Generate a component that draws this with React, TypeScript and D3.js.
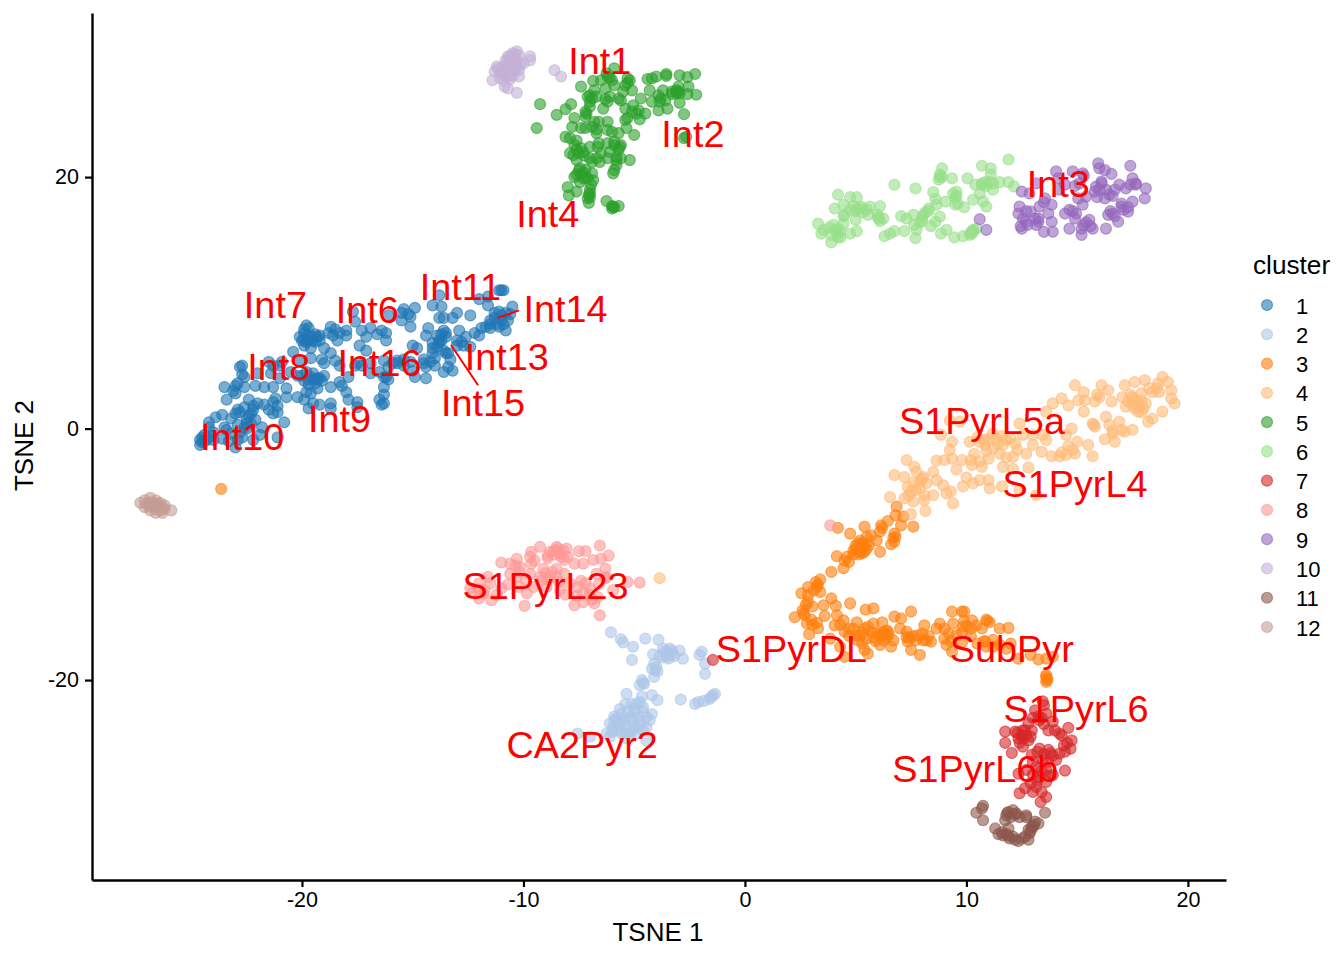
import React, { useRef, useEffect } from 'react';
import * as d3 from 'd3';

type Pt = [number, number];

const cluster1: Pt[] = [
  [-24.6,-1.3],[-24.6,-0.9],[-24.4,-0.5],[-24.2,0.1],[-24.2,0.5],[-23.9,0.9],[-23.6,1.1],[-23.5,0.1],[-24,-0.9],[-23.6,-0.8],[-23.2,-0.4],[-23,-1.5],[-23.2,0.8],[-22.9,1.5],[-22.6,1.7],[-22.4,2.3],[-22.3,1.2],[-22.5,0.8],[-22.6,0.1],[-22.3,0.4],[-22.7,-0.7],[-22,2],[-21.7,1.9],[-21.5,1.5],[-21.3,2.1],[-21.1,1.3],[-20.8,0.5],[-21.1,-0.7],[-21.8,0.1],[-23.4,2.3],[-23,2.8],[-23.5,3.3],[-23,3.4],[-22.6,4.1],[-22.7,5],[-22.8,4.9],[-22.6,3.3],[-22.1,3.4],[-21.7,3.3],[-21.3,3.3],[-22,4.4],[-21.4,4.4],[-21.5,5.3],[-20.9,5.3],[-20.4,6.1],[-20.7,3.2],[-21.2,2.4],[-20.7,2.5],[-20.2,2.5],[-19.8,2.9],[-19.6,2.8],[-19.3,3.2],[-19.7,1.6],[-19.2,1.9],[-18.7,2],[-19.9,3.8],[-19.6,4.1],[-19.3,4],[-19,4.2],[-18.7,3.3],[-18.3,3.7],[-17.9,4.1],[-18,2.9],[-17.9,2.3],[-17.5,2.1],[-17.5,1.7],[-16.5,2.3],[-16.3,2],[-16.3,2.7],[-16.3,3.3],[-16.3,4.1],[-16.9,4.4],[-16.5,4.5],[-16.2,4.1],[-15.7,5.2],[-16.3,5.4],[-15.4,5],[-14.9,4.1],[-14.4,4],[-14.4,4.9],[-14,5],[-14.5,5.2],[-14.8,6.4],[-15,6.6],[-14.1,6],[-13.8,6.8],[-13.5,7.6],[-14.4,7.4],[-14.3,8],[-13.8,8.8],[-13.6,8.8],[-13.2,8.8],[-13,9.2],[-12.4,9],[-14.1,9.8],[-13.7,9.7],[-13.8,10.6],[-11.6,9.8],[-12,10.3],[-11.6,10.5],[-11.1,11],[-10.9,11],[-11.3,9.2],[-11.1,9.3],[-10.5,9.7],[-10.8,9.2],[-11,8.6],[-10.8,7.8],[-11.7,8.1],[-12.2,7.6],[-12.6,7.3],[-13,7],[-12.9,7.8],[-13.5,6],[-13.4,4.9],[-13.6,6.2],[-12.7,6.6],[-15.1,8.1],[-14.9,9.6],[-15.4,9.5],[-15.5,8.6],[-15.1,8.9],[-16.1,9],[-16.2,7.6],[-16.4,7.8],[-16.2,7],[-16.9,8],[-17.3,7.8],[-17.1,7.3],[-17.4,6.6],[-17.1,6.2],[-17.6,8.5],[-17.7,9.3],[-18,7.8],[-18.3,7.6],[-18.4,7],[-18.7,8.1],[-18.8,7.6],[-19.7,8],[-19.9,7.6],[-20,7],[-19.9,6.6],[-19.4,6.9],[-19.2,7],[-19,6.4],[-18.7,6],[-19.1,5.5],[-19.6,5.6],[-20.1,5.3],[-15.7,5.4],[-17.5,5.2],
  [-23.3,-1],[-22.9,-0.9],[-22.5,0],[-22.1,0.7],[-22.2,1.5],[-24.4,-1],[-24.5,-0.7],[-24,-0.3],[-22.2,-0.9],[-21.9,-0.5],[-21,4],[-20.5,4.5],[-20.2,4.2],[-19.7,3.5],[-19.4,3.6],[-19.5,7.3],[-19.7,7],[-19.3,7.3],[-17.6,5],[-16.9,5.2],[-15.4,5.5],[-13.9,6.5],[-14,5.6],[-13.7,7],[-13.5,7.3],[-13.3,5.5],[-12.8,6.9],[-11.5,8.3],[-11.3,8.8],[-11.2,8.3],[-10.9,8.3],[-11,11],
  [-20.1,7.3],[-19.9,7.1],[-19.7,7.4],[-19.5,7],[-19.4,7.5],[-19.2,7.4],[-19.9,7.9],[-19.8,8.2],[-19.8,6.9],[-19.6,6.4],[-18.6,7.4],[-18.5,7.9],[-18,7.4],[-19.5,4.4],[-19.7,3.9],[-19.2,4],[-19.4,3.9],[-19.1,3.8],[-19.8,4.5],[-20,4.2],[-18.2,3.4],[-13.9,7.4],[-13.8,7],[-14.1,6.4],[-14.1,6.8],[-13.6,7.8],[-13.7,7.5],[-13.4,6],[-13,6.6],[-12.4,6.5],[-12,7.4],[-11.9,8],[-11.5,8],[-11.1,8.1],[-11,9],[-11.5,8.6],[-10.7,8.6],[-10.6,9.1],[-22.4,1],[-22.2,1.8],[-22.8,1.3],[-23,1.2],[-22.5,0.4],[-22.9,0.3],[-23.4,-0.1],[-22.8,-0.3],[-24.3,-0.9],[-24.1,-0.6],[-24.5,-1.1],[-22.9,3.6],[-22.7,4.3],[-23.1,3],[-21.3,5],[-21,5],[-19,5.2],[-18.5,5.4],[-18.3,5],[-17.3,5],[-16.1,4.9],[-15.9,5.2],[-15.1,5.3],[-15,4.6],[-16.1,3.9],[-16.4,1.9],[-18.7,1.6],[-19.5,2],[-19.9,2.3],[-21.1,1.8],[-21.3,1.2],[-16.6,7.5],[-15.5,9.2],[-15.2,9.1],[-14.5,5.5],[-14.2,5.3],[-13.6,4.5],[-13.2,4.6],
];
const cluster2: Pt[] = [
  [-6.05,-16.2],[-5.6,-16.75],[-5.5,-17],[-5.05,-17.35],[-5.1,-18.4],[-4.5,-16.7],[-3.9,-16.8],[-3.7,-17.5],[-3.3,-17.65],[-2.95,-17.65],[-2.8,-18.3],[-4.15,-17.95],[-3.85,-18.05],[-3.45,-18.3],[-3.55,-17.9],[-3.25,-17.9],[-1.95,-17.75],[-2.05,-18],[-1.8,-18.7],[-1.8,-19.5],[-4,-18.95],[-4.2,-19.1],[-4.1,-19.75],[-4.65,-20],[-4.75,-20.4],[-5.35,-21.1],[-5.4,-21.9],[-4.65,-21.3],[-4.2,-21.2],[-3.95,-21.6],[-2.9,-21.55],[-2.25,-21.9],[-2.1,-21.75],[-1.85,-21.65],[-1.5,-21.35],[-1.35,-21.1],[-5.65,-22.3],[-5.1,-21.9],[-4.75,-21.75],[-4.6,-22.15],[-4.2,-22.7],[-4.45,-23.75],[-6.1,-23.45],[-5.8,-23.05],[-5.5,-23.35],[-5.2,-22.95],[-5,-23.75],[-6.25,-24.25],[-5.8,-24],[-5.35,-24.25],[-4.9,-24.25],[-6.1,-24.5],[-4.45,-24.8],[-7.55,-24.25],[-7,-24.5],[-4.45,-22.95],[-5.65,-23.75],[-4.8,-22.95],[-5.1,-24],[-5.95,-23.75],[-4.6,-24],[-5.35,-23.75],
  [-5.9,-22.9],[-5.6,-22.7],[-5.4,-23],[-5.6,-24.2],[-5.2,-24.4],[-5,-22.6],[-4.7,-23.3],[-4.6,-22.5],[-5,-22.3],[-4.9,-21.9],[-5.3,-22.5],[-5.7,-23.4],[-6,-24.1],[-5.4,-24.6],[-5.1,-23.2],[-4.8,-23.6],[-4.3,-23.2],[-5.9,-23.2],[-3.6,-17.7],[-3.5,-18.1],[-3.4,-17.5],[-3.7,-18.2],[-3.2,-18.1],[-4.05,-19.2],[-3.95,-19.3],[-4.1,-18.7],[-4.6,-20.2],[-4.55,-20.3],[-1.6,-21.5],[-1.45,-21.2],
];
const cluster3: Pt[] = [
  [-23.65,-4.8],[6.85,-6.2],[6.8,-6.9],[7.15,-7],[7.05,-7.7],[7.6,-7.8],[6.45,-7.35],[6.15,-7.7],[6.1,-8.2],[5.4,-7.8],[4.75,-8.35],[4.2,-7.9],[6.75,-8.35],[6.75,-9],[5.1,-9.15],[5.35,-9.4],[5.2,-9.8],[6.1,-9.8],[5.7,-8.5],[4.15,-10.15],[5.95,-8.9],[5.5,-8.6],[5,-9.3],[5.4,-9.8],[5.2,-8.9],[5.3,-9.1],[5.45,-9.2],[5.25,-9.6],[5.5,-9.55],[4.9,-9.7],[4.6,-10.2],
  [4.7,-10.6],[4.45,-11.1],[3.9,-11.4],[3.4,-12],[3.2,-12.2],[3.25,-12.6],[2.85,-12.6],[2.55,-13.1],[2.85,-13.25],[2.85,-13.8],[3.05,-14.15],[3.55,-14.05],[3.9,-13.5],[4.1,-14.1],[4.75,-13.9],[2.6,-14.45],[2.25,-15],[2.7,-14.85],[2.8,-15.5],[2.9,-16.35],[3.25,-15.45],[3.3,-15.9],[3.6,-14.9],[4.15,-14.85],[4.05,-15.65],[4.45,-15.25],[5.45,-14.4],[5.8,-14.3],[3.85,-16.7],[4.3,-17.35],[4.5,-18.15],[5.05,-15.4],[4.5,-16.15],[5.2,-16.45],[5.55,-15.75],[5.8,-15.5],[6.2,-15.4],[6.75,-14.95],[7.05,-15.1],[7.5,-14.55],[6.4,-16.05],[6.1,-16.45],[6.25,-16.85],[6.6,-17.35],[6.7,-16.85],[7,-15.9],[7.3,-16.15],[7.35,-16.95],[7.5,-17.6],[7.9,-18],[7.8,-16.45],[8.05,-16.85],[8.1,-15.65],[8.4,-16.95],[8.65,-15.9],[8.8,-15.5],[9,-15.9],[9.4,-15.5],[9.35,-14.55],[9.8,-14.55],[9.9,-14.55],[10.25,-15.25],[9.85,-15.75],[10.45,-15.65],[10.9,-15.2],[11.05,-15.4],[11.5,-15.9],[11.9,-15.85],[9,-16.7],[9.1,-17.2],[9.35,-17.75],[9.55,-16.45],[10.85,-16.95],[10.9,-17.35],[11.8,-17.5],[12.35,-18.3],[13.25,-18.35],[13.6,-18.3],[13.9,-18.15],[5.4,-17.6],[5.55,-17.9],[5.7,-16.15],[5,-16.45],[5.1,-16.85],[6.1,-17.2],[6.45,-16.15],[13.6,-19.6],[13.65,-19.9],[13.6,-20.15],[10.8,-16.9],[11.2,-17.35],[8.2,-16.85],[7.7,-16.85],[9.8,-17],[10.2,-16.5],[10.5,-17.1],[11.5,-17.2],[12,-17.1],[12.9,-18],[6,-16.3],[6.3,-16.3],[5.3,-16.2],[4.9,-15.9],[3.4,-13],
  [5.5,-16.7],[5.8,-16.6],[6.2,-16.2],[6.4,-16.6],[6.5,-16.4],[5.9,-16.9],[5.3,-17.1],[4.7,-16.5],[4.3,-15.6],[4.7,-15.9],[5.4,-15.9],[3.05,-15.6],[3,-15.2],[2.65,-14.7],[2.75,-14],[3.1,-12.9],[3.3,-12.4],[7.4,-16.6],[7.6,-16.5],[8,-16.3],[8.3,-16.5],[7.3,-16.6],[9.2,-16.3],[9.3,-16.9],[9.8,-16.2],[10,-15.7],[10.2,-15.9],[9.9,-15.3],[10.7,-15.9],[10.95,-15.3],[11.2,-16.8],[5,-9.6],[4.9,-10],[5.15,-10],[5.3,-9.9],[5.6,-9.3],[4.5,-10.5],[6.7,-8.7],[6.8,-8.6],[6.6,-9.2],[6.2,-7.9],[13.6,-19.75],[13.65,-20],
];
const cluster4: Pt[] = [
  [-3.85,-11.9],[18.85,4.1],[18.65,3.6],[19.1,3.7],[18.05,3.85],[17.6,3.7],[17.15,3.45],[18.25,3.2],[18.7,2.9],[19.25,3.05],[19.25,2.4],[19.4,2],[18.85,1.35],[18.4,0.8],[18.2,0.55],[17.9,2.8],[17.5,2.5],[17.3,2.15],[17.2,1.75],[17.8,1.85],[18.1,2],[17.75,1.35],[17.05,2.5],[16.1,3.45],[16.4,3.05],[16,2.5],[15.8,2.15],[16.55,2.15],[15.3,2.9],[14.9,3.45],[15.05,2.25],[15.35,2.25],[15.3,1.35],[14.6,1.85],[14.3,2.4],[13.9,2],[13.6,1.35],[15.7,0.4],[15.8,0.15],[16.3,0.95],[16.45,0.3],[16.9,0.55],[17.5,-0.1],[17.15,-0.25],[16.6,-0.4],[16.25,-0.85],[16.7,-1.05],[15.5,-1.3],[15.7,-2.2],[15,-1.05],[14.75,0],[14.8,-1.7],[14.5,-2.1],[14.2,-2.2],[13.85,-2.2],[13.4,-1.85],[12.7,-2],[13,-1.3],[13.45,-0.5],[13,-0.5],[12.4,0.4],[9.7,0.55],[9.25,0.65],[8.85,-0.5],[9.35,-1.05],[9.25,-1.7],[10.15,-1.05],[10.6,-1.05],[10.85,-1.3],[11.2,-1.6],[11.65,-1.3],[12.2,-1.2],[12.1,-2.25],[11,-2.4],[10.35,-2],[9.8,-2.5],[9.35,-2.4],[9,-2.5],[8.65,-2.55],[9.55,-3.25],[10.25,-2.9],[10.7,-3.05],[11.65,-3.05],[12.1,-3.2],[12.8,-3.1],[7.3,-2.5],[7.65,-3.05],[7.75,-3.45],[6.75,-3.7],[7.2,-3.85],[8.05,-3.85],[8.5,-3.45],[8.65,-4.1],[8.2,-4.35],[7.35,-4.65],[8.95,-4.5],[9.3,-5],[9.4,-5.95],[8.5,-5.3],[8.1,-5.3],[6.55,-5.45],[7.2,-5.55],[7.6,-5.8],[8.1,-5.7],[8.15,-6.55],[7.5,-6.8],[9.85,-4.6],[10,-3.9],[10.3,-4.35],[10.6,-4.1],[11.05,-4.75],[11,-4.1],[11.6,-4.6],[13.15,-5.3],[12.4,-4.9],[9.1,-5.15],[7.9,-4.75],[11.2,-0.4],[11.35,-0.8],[11.8,-0.9],[12.55,-0.5],
  [17.6,2.3],[17.7,2.1],[17.5,1.9],[17.9,2.2],[18,1.6],[17.6,1.6],[17.9,1.3],[17.4,2.7],[18.4,2.9],[18.6,3.2],[15.9,2.7],[10.5,-0.7],[10.8,-0.9],[11,-0.8],[11.4,-1.2],[11.6,-0.6],[12,-0.8],[10.9,-1.8],[11.5,-2],[11.8,-2.3],[12.3,-1.7],[10.2,-2.5],[10.6,-2.6],[7.6,-4.3],[7.9,-4.2],[8,-4],[7.5,-5],[7.7,-4.9],[7.4,-5.3],[13.6,-0.9],[14.5,-0.5],[14.6,-1.4],[14.9,-2],[14.3,-1.9],[15.75,0.3],[16.6,-0.2],[17,-0.1],
];
const cluster5: Pt[] = [
  [-5.9,28.65],[-6.25,28.25],[-6.85,27.65],[-7.4,27.2],[-6.5,27.7],[-6,27.7],[-5.3,27.85],[-5.2,27.7],[-5.4,27.3],[-5.1,26.9],[-5.9,27.3],[-6.3,27.05],[-6.8,26.9],[-7.1,26.4],[-6.9,26.25],[-7,26],[-6.3,26.2],[-6.2,26],[-5.7,26.25],[-5.6,26.1],[-6.4,25.45],[-7,25.6],[-7.15,25.05],[-7.2,24.8],[-6.8,24.4],[-6.6,24.4],[-6.2,24.4],[-5.4,25.45],[-5.05,25.7],[-4.9,25.05],[-4.5,25.05],[-4.75,24.6],[-5.3,24.7],[-5.4,24.55],[-5.35,23.9],[-7.7,24.7],[-7.8,24],[-7.4,23.9],[-7.2,23.9],[-6.7,23.5],[-6.2,23.75],[-6,23.6],[-5.7,23.5],[-5,23.35],[-8.1,23.2],[-7.9,23.1],[-7.7,22.55],[-6.6,22.7],[-6.65,22.4],[-6.2,22.7],[-5.9,22.55],[-5.6,22.55],[-5.65,22.4],[-7.9,21.9],[-7.3,22],[-7,22.4],[-6.5,21.9],[-6.1,22],[-5.8,21.35],[-5.2,21.35],[-5.6,21.5],[-7.75,21.75],[-7.6,21.35],[-6.9,21.2],[-6.55,21.2],[-5.8,20.95],[-5.95,20.3],[-5.9,20.55],[-7.45,20.7],[-7.3,20.4],[-7.7,20],[-6.85,19.75],[-6.9,20.3],[-7.45,19.6],[-8,19.2],[-7.95,18.55],[-7.6,18.85],[-7,18.7],[-7.1,18.3],[-7.05,17.95],[-6.25,18.1],[-5.95,17.65],[-5.7,17.7],[-6,17.5],[-9.25,25.8],[-9.4,23.9],[-8.5,24.95],[-8.1,25.4],[-7.85,25.8],[-4.4,27.8],[-4.2,27.85],[-4,28],[-3.55,28.2],[-3.55,28.05],[-2.95,28.1],[-2.25,28.2],[-2.6,27.95],[-3.7,26.9],[-4.3,26.9],[-3,27.2],[-2.55,27.2],[-3.1,26.65],[-3.3,26.8],[-2.95,26.65],[-2.2,26.55],[-2.6,26.6],[-4.7,26.25],[-4.2,26],[-3.8,26.25],[-3.85,26],[-2.95,25.9],[-3.5,25.45],[-3.9,25.3],[-2.75,25],[-2.75,23.1],[-2.65,23.2],
  [-7.4,20.2],[-7.2,20],[-7.1,19.9],[-7.6,20.2],[-7,19],[-7,18.4],[-7.6,22.2],[-7.5,21.9],[-6,17.7],[-5.9,17.6],[-3.1,26.9],[-3.3,26.6],
  [-7.6,22.9],[-7.4,22.3],[-7.25,21.7],[-7,21.5],[-6.7,21.5],[-5.9,22.8],[-5.7,22.2],[-5.8,21.6],[-6.2,21.5],[-7.2,20.6],[-7.3,19.9],[-7.5,20.5],[-6.95,19.4],[-7.05,18.6],[-7,26.5],[-6.7,26.4],[-5.3,27.5],[-5.5,26.8],[-6.1,26.4],[-5.1,25.2],[-4.8,25.3],[-6.7,23.8],[-6.9,24],[-3.9,26.5],[-3.6,26.1],[-3,26.8],[-6.1,27.9],[-6.2,28],[-7.2,25.2],
];
const cluster6: Pt[] = [
  [3.3,16.3],[3.55,15.8],[3.45,15.5],[3.9,14.8],[4.3,15.2],[4.2,15.9],[4,16.2],[4.15,15.5],[4.75,15.5],[5.05,15.7],[4.45,16.3],[4.45,16.9],[4.2,18.6],[4.75,18.4],[5.05,18.4],[4.05,17.5],[4.45,17.8],[4.75,17.4],[5.05,17.5],[5,16.6],[5.55,17],[5.25,17.65],[5.65,17.65],[6.1,17.7],[6,17],[6.1,16.5],[6.25,16.7],[6.75,19.4],[7.7,19.1],[6.3,15.3],[6.55,15.5],[6.75,15.7],[7.05,16.9],[7.3,16.7],[7.2,15.7],[7.6,17],[7.75,15.8],[7.7,15.15],[7.65,16.2],[8.05,17],[8.3,17.5],[8.6,16.45],[8.4,16.1],[8.8,16.85],[8.5,18.8],[8.6,18.25],[8.65,17.8],[9.05,18.05],[9.4,18.7],[9.55,18.85],[9.5,17.8],[9.9,17.6],[8.9,20.7],[8.8,20.2],[8.75,19.8],[9.35,19.9],[10.05,19.9],[8.85,15.5],[9.1,15.8],[9.45,15.2],[9.85,15.3],[10.15,15.4],[10.3,15.8],[10.45,15.9],[10.4,19.4],[10.6,18.7],[10.3,18.2],[10.75,18.05],[10.9,17.65],[10.7,20.9],[11.1,20.7],[11.1,20.2],[10.7,19.4],[11.2,19],[11.05,19.6],[11.5,19.6],[11.9,19.6],[12.15,19.25],[11.9,21.4],
  [4.3,15.7],[5,17.3],[5.3,17.2],[6,16.8],[8,16.8],[7.9,16.4],[8.15,17.2],[9.5,18.4],[9.6,17.9],[8.9,20],[10.2,15.6],[10.85,19.6],
  [3.8,16],[3.9,15.4],[4.2,15.2],[4.1,15.8],[5.2,17.5],[5.5,17.4],[6.05,16.7],[8.3,17.3],[8,16.5],[9.55,18.5],[10.3,15.7],[10.25,15.5],[10.7,19.5],[10.9,19.3],[11.2,19.5],[8.8,20],[4.5,17],[4.9,17.7],
];
const cluster7: Pt[] = [
  [-1.45,-18.4],[13.45,-21.7],[13.1,-22.4],[13.25,-22.9],[13.6,-22.65],[13.9,-23.3],[13.7,-24],[14.6,-23.8],[14.3,-24.4],[14.75,-24.8],[14.7,-25.45],[14.2,-25.85],[11.75,-24.1],[12.2,-24.1],[12.65,-24],[11.75,-25],[12.05,-25.8],[12.55,-25.3],[12.95,-24],[12.55,-24.65],[13.3,-25.45],[13.7,-25.55],[14.05,-26.35],[14.45,-27.2],[12.7,-27.15],[13.15,-26.9],[13.6,-27.15],[13.9,-27.55],[12.4,-29],[12.65,-28.6],[13.15,-28.5],[13.6,-29.3],[13.35,-29.7],[13,-28.9],[13.6,-28.1],[12.95,-25.95],[13.45,-26.35],[12.35,-24.65],[12.8,-23.45],[14.45,-25.7],[12.35,-27.45],[13.3,-27.7],[13.7,-26.5],[12.55,-24],[13.3,-23.2],[14.2,-24.25],
  [12.3,-24.2],[12.5,-24.4],[12.7,-24.4],[12.8,-24.8],[13,-23],[13.4,-23],[13.5,-23.5],[13.2,-25.7],[13.5,-25.9],[13.8,-25.8],[14.4,-25.2],[14.55,-25],[13.4,-27.2],[13,-27.5],[13.2,-28],[12.9,-28.2],[13.4,-28.9],[13.9,-26],[13,-26.5],[13.7,-27.6],[12.9,-24.5],[13.5,-22],[14,-24],[12.4,-25],
];
const cluster8: Pt[] = [
  [3.85,-7.7],[-6.55,-9.3],[-6.15,-10.1],[-7.2,-9.75],[-7.5,-9.75],[-8.05,-9.55],[-8.5,-9.4],[-9.25,-9.4],[-9.65,-9.8],[-9.7,-10.2],[-8.9,-10.1],[-8.35,-9.95],[-8.15,-10.45],[-7.7,-10.75],[-7.3,-10.75],[-6.85,-10.45],[-6.5,-10.35],[-6.3,-11.15],[-11,-10.65],[-10.6,-10.75],[-10.3,-10.35],[-10.15,-11],[-9.65,-10.75],[-9.1,-11.15],[-8.5,-11.15],[-8.15,-11.55],[-6.7,-11.55],[-6.25,-11.8],[-5.3,-12.2],[-4.75,-12.25],[-11.6,-11.8],[-12,-12.3],[-12.4,-12.7],[-12,-13.5],[-11.45,-13.65],[-9.95,-14.1],[-9.85,-13.1],[-9.25,-11.8],[-8.8,-11.8],[-7.7,-14.05],[-7.3,-13.8],[-6.8,-13.9],[-6.55,-14.85],[-5.95,-12.85],[-7.55,-12.6],[-7,-12.7],[-11,-12.7],[-10.3,-11.8],[-9.55,-12.6],[-8.95,-12.6],[-8.35,-12.85],[-7.3,-13.1],[-6.65,-13.4],[-11.75,-12.85],[-12.25,-13],[-10.6,-11.55],[-8.8,-9.8],[-8.45,-9.55],[-8.2,-9.7],[-9.7,-11.55],[-7.9,-12.3],
  [-8.9,-10.3],[-8.6,-10],[-8.3,-10.2],[-8.6,-9.7],[-8,-10.2],[-9.5,-10.5],[-10.35,-10.9],[-10.2,-11.4],[-9,-11.5],[-8.7,-11.4],[-8.5,-11.8],[-8.9,-12],[-9.2,-12.1],[-8.4,-12.2],[-7.4,-12.1],[-7.2,-12.3],[-7.6,-13.3],[-7,-13.2],[-6.3,-11.9],[-6.6,-12.4],[-6.9,-13.6],[-11.8,-13.1],[-12,-12.8],[-11.5,-12.3],[-11.2,-13.2],[-10.7,-12.4],[-10.2,-12.6],[-9.9,-12],[-8.1,-13.2],
];
const cluster9: Pt[] = [
  [10.6,16.65],[10.9,15.8],[12.5,18.85],[12.85,18.7],[12.4,17.65],[12.35,17.1],[12.55,16.7],[12.45,16.1],[12.7,16.45],[12.5,15.9],[12.9,17.25],[13.15,19.5],[13.25,16.45],[13.25,16.7],[13.15,16.2],[13.5,15.65],[13.7,17.1],[13.85,16.45],[13.9,15.65],[13.3,17.65],[13.85,17.8],[13.55,18.3],[14.05,20.45],[14.15,19.9],[14.8,20.45],[15.25,20.3],[14.45,19.4],[15.85,19.25],[16.1,19.5],[15.95,21.1],[16,20.7],[16.25,20.55],[16.55,20.25],[17.4,20.9],[17.5,19.9],[17.4,19.4],[17.65,19.4],[18.1,19.1],[18.05,18.3],[16.9,19.4],[16.7,19],[16.45,18.6],[16.25,18.3],[15.8,18.85],[15.4,18.45],[15.25,17.8],[14.95,17.1],[14.45,17.1],[14.9,16.7],[14.65,15.9],[15.2,15.9],[15.2,15.4],[15.55,16.6],[15.7,15.9],[16.3,15.9],[16.85,16.45],[16.4,17],[16.6,17.1],[17,17.9],[17.5,18.05],[17.3,17.25],[17,17.65],[15.1,19.5],[14.2,19],[14.65,17.4],[15.05,18.3],[17.65,19.5],[16.3,19],[16.1,19.65],
  [12.75,16.2],[13.1,16.7],[15.4,16.4],[15.3,16.2],[16.5,17.3],[16.7,16.9],[17.1,17.4],[17.3,17.6],[14.8,17.3],[16.6,18.5],[17.2,19.1],[15.3,20.1],[13.5,18],[15.6,16.1],[12.7,17.3],[15.9,18.4],[16,19],[14.9,19.3],
];
const cluster10: Pt[] = [
  [-10.3,30],[-9.7,29.6],[-9.7,29.3],[-11.4,27.7],[-11.2,28.8],[-11.3,28.4],[-10.8,29.3],[-10.7,29.6],[-10.5,29.85],[-10.2,29.7],[-10.5,29.05],[-10.15,28.9],[-11.05,28.25],[-10.7,28.5],[-10.4,28.4],[-10.2,28],[-10.9,27.7],[-11.05,27.85],[-10.7,27.05],[-10.3,26.7],[-10.85,27.2],[-10,29.05],[-10.5,28],[-10.75,29.05],[-11.15,28.65],[-8.6,28.5],[-8.3,28],[-10.6,29.3],[-10.4,29.5],[-10.9,28.8],[-10.3,28.7],[-10.8,28],[-10.6,27.8],
  [-10.6,28.9],[-10.5,28.5],[-10.8,28.4],[-11,28.6],[-11,28.3],[-10.4,29.1],[-10.3,29.3],[-10.6,29.6],[-10.4,29.8],[-10.9,28.1],[-10.6,28.1],[-10.2,28.5],
];
const cluster11: Pt[] = [
  [10.75,-30],[10.45,-30.55],[10.75,-31.15],[12.1,-30.35],[11.8,-30.75],[11.75,-31.15],[12.4,-30.9],[12.7,-30.75],[13.55,-30.55],[13.25,-31.4],[12.95,-31.65],[12.85,-32.2],[12.65,-32.45],[11.3,-31.8],[11.45,-32.25],[11.65,-32.35],[11.95,-32.6],[12.35,-32.8],[12.8,-32.7],[11.9,-31.8],[12.25,-30.6],[13.1,-31.25],[11.8,-32.25],[12.1,-32.45],
  [11.9,-30.5],[12,-30.9],[12.2,-30.7],[12.7,-30.9],[13,-31.7],[12.8,-31.9],[13.05,-31.5],[12.9,-32],[11.6,-32.1],[11.9,-32.4],[12.2,-32.7],[12.5,-32.6],[11.85,-30.55],[10.7,-30.2],
];
const cluster12: Pt[] = [
  [-27.3,-5.9],[-27.1,-5.7],[-26.85,-5.5],[-26.6,-5.7],[-26.4,-5.9],[-26.2,-6.1],[-25.9,-6.5],[-26.85,-6.5],[-26.6,-6.7],[-26.4,-6.5],[-27.1,-6.25],[-26.5,-6.2],[-26.75,-6.1],
  [-26.9,-5.9],[-26.7,-5.9],[-26.3,-6.3],[-26.6,-6.4],[-26.5,-6],[-26.9,-6.2],[-26.2,-6.4],[-27,-6],[-26.3,-6.7],
];

const clusters = [cluster1, cluster2, cluster3, cluster4, cluster5, cluster6, cluster7, cluster8, cluster9, cluster10, cluster11, cluster12];
const clusterNames = ['1', '2', '3', '4', '5', '6', '7', '8', '9', '10', '11', '12'];
const palette = ['#1f77b4', '#aec7e8', '#ff7f0e', '#ffbb78', '#2ca02c', '#98df8a', '#d62728', '#ff9896', '#9467bd', '#c5b0d5', '#8c564b', '#c49c94'];

const labelNames = ['Int1', 'Int2', 'Int3', 'Int4', 'Int7', 'Int6', 'Int11', 'Int14', 'Int8', 'Int16', 'Int13', 'Int15', 'Int9', 'Int10', 'S1PyrL5a', 'S1PyrL4', 'S1PyrL23', 'S1PyrDL', 'SubPyr', 'S1PyrL6', 'S1PyrL6b', 'CA2Pyr2'];
const labelXs = [-6.55, -2.35, 14.15, -8.9, -21.2, -17.05, -12.85, -8.1, -21.05, -16.5, -10.75, -11.83, -18.3, -22.7, 10.7, 14.9, -9, 2.1, 12.05, 14.95, 10.4, -7.35];
const labelYs = [29.25, 23.45, 19.5, 17.1, 9.85, 9.45, 11.3, 9.55, 4.95, 5.2, 5.75, 2.05, 0.75, -0.65, 0.65, -4.35, -12.5, -17.5, -17.55, -22.25, -27.05, -25.15];
// repel segments: x1, y1, x2, y2
const segments = [
  [-11.15, 8.8, -10.2, 9.4],
  [-13.27, 6.65, -12.05, 3.45],
];

const xTicks = [-20, -10, 0, 10, 20];
const yTicks = [-20, 0, 20];

const width = 1344;
const height = 960;
const left = 92;
const right = 1226;
const top = 13;
const bottom = 880;
const font = '"Liberation Sans", Arial, sans-serif';

const x = d3.scaleLinear().domain([-29.48, 21.72]).range([left, right]);
const y = d3.scaleLinear().domain([-35.9, 33.05]).range([bottom, top]);
const legendY = d3.scalePoint<string>().domain(clusterNames).range([305, 627]);

export default function App() {
  const xAxisRef = useRef<SVGGElement | null>(null);
  const yAxisRef = useRef<SVGGElement | null>(null);

  useEffect(() => {
    const styleAxis = (g: any) => {
      g.selectAll('.domain').attr('stroke', '#000').attr('stroke-width', 2.4);
      g.selectAll('.tick line').attr('stroke', '#000').attr('stroke-width', 2.2);
      g.selectAll('.tick text').attr('fill', '#000').style('font-family', font).style('font-size', '21.5px');
    };
    const xg = d3.select(xAxisRef.current);
    xg.call(d3.axisBottom(x).tickValues(xTicks).tickFormat((d: any) => String(d)).tickSize(7).tickPadding(5).tickSizeOuter(0) as any);
    styleAxis(xg);
    const yg = d3.select(yAxisRef.current);
    yg.call(d3.axisLeft(y).tickValues(yTicks).tickFormat((d: any) => String(d)).tickSize(7).tickPadding(6).tickSizeOuter(0) as any);
    styleAxis(yg);
  }, []);

  return (
    <svg width={width} height={height} style={{ position: 'absolute', left: 0, top: 0, display: 'block' }} fontFamily={font}>
      <rect width={width} height={height} fill="#fff" />
      {clusters.map((pts, i) => (
        <g key={i} fill={palette[i]} stroke={palette[i]} fillOpacity={0.6} strokeOpacity={0.6} strokeWidth={1.2}>
          {pts.map((p, j) => (
            <circle key={j} cx={x(p[0])} cy={y(p[1])} r={5.5} />
          ))}
        </g>
      ))}
      <g ref={xAxisRef} transform={`translate(0,${bottom})`} />
      <g ref={yAxisRef} transform={`translate(${left},0)`} />
      {segments.map((s, i) => (
        <line key={i} x1={x(s[0])} y1={y(s[1])} x2={x(s[2])} y2={y(s[3])} stroke="#f00" strokeWidth={2} />
      ))}
      {labelNames.map((name, i) => (
        <text key={name} x={x(labelXs[i])} y={y(labelYs[i])} dy="0.35em" textAnchor="middle" fontSize={37.8} fill="#f00">
          {name}
        </text>
      ))}
      <text x={(left + right) / 2 - 1} y={941} textAnchor="middle" fontSize={26} fill="#000">TSNE 1</text>
      <text transform={`translate(33,${(top + bottom) / 2 - 1}) rotate(-90)`} textAnchor="middle" fontSize={26} fill="#000">TSNE 2</text>
      <text x={1253} y={274} fontSize={26.2} fill="#000">cluster</text>
      {clusterNames.map((name, i) => (
        <g key={name}>
          <circle cx={1267} cy={legendY(name)} r={5.5} fill={palette[i]} stroke={palette[i]} fillOpacity={0.6} strokeOpacity={0.6} strokeWidth={1.2} />
          <text x={1296} y={(legendY(name) as number) + 8.5} fontSize={22} fill="#000">{name}</text>
        </g>
      ))}
    </svg>
  );
}
